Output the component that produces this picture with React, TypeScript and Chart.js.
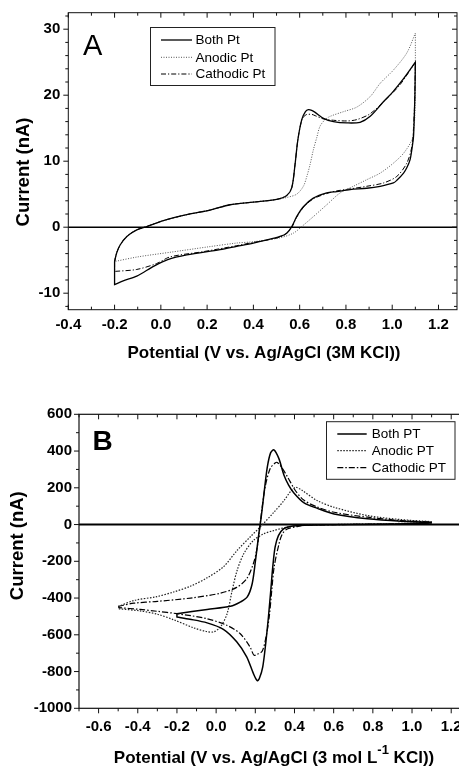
import React, { useEffect, useRef } from "react";
import { Chart, registerables } from "chart.js";
Chart.register(...registerables);

const FONT = "'Liberation Sans', Arial, Helvetica, sans-serif";

// ---------- Panel A data (potential V, current nA) ----------
const seriesA = ["Both Pt", "Anodic Pt", "Cathodic Pt"];
const xTicksA = [-0.4, -0.2, 0.0, 0.2, 0.4, 0.6, 0.8, 1.0, 1.2];
const yTicksA = [-10, 0, 10, 20, 30];

const aBothE = [
  -0.2, -0.191, -0.176, -0.147, -0.104, -0.061, 0.011, 0.112, 0.213, 0.299, 0.4, 0.5, 0.544, 0.566, 0.58, 0.592, 0.609, 0.625, 0.638, 0.652, 0.667, 0.703, 0.746, 0.804, 0.861, 0.905, 0.962, 1.0, 1.049, 1.1, 1.1,
  1.098, 1.095, 1.092, 1.085, 1.077, 1.063, 1.049, 1.02, 1.005, 0.948, 0.89, 0.818, 0.76, 0.717, 0.659, 0.616, 0.587, 0.566, 0.544, 0.515, 0.45, 0.4, 0.328, 0.256, 0.112, 0.03, -0.03, -0.104, -0.16, -0.2, -0.2, -0.2,
];
const aBothI = [
  -5.2, -3.9, -2.7, -1.4, -0.4, 0.1, 1.0, 1.9, 2.6, 3.4, 3.8, 4.2, 4.8, 6.0, 9.5, 13.2, 16.3, 17.5, 17.8, 17.7, 17.4, 16.5, 16.0, 15.8, 15.9, 16.8, 19.0, 20.4, 22.5, 25.0, 25.0,
  20.0, 16.5, 13.7, 11.8, 10.2, 9.0, 8.2, 7.1, 6.7, 6.2, 5.9, 5.7, 5.4, 5.2, 4.4, 3.1, 1.6, 0.1, -0.9, -1.4, -2.0, -2.4, -2.9, -3.4, -4.2, -4.9, -5.9, -7.4, -8.1, -8.7, -8.7, -5.2,
];

const aAnodE = [
  -0.2, -0.191, -0.176, -0.147, -0.104, -0.061, 0.011, 0.112, 0.213, 0.299, 0.4, 0.5, 0.544, 0.587, 0.616, 0.631, 0.645, 0.659, 0.674, 0.688, 0.71, 0.732, 0.789, 0.847, 0.905, 0.948, 1.005, 1.063, 1.1, 1.1,
  1.1, 1.098, 1.092, 1.085, 1.049, 1.005, 0.948, 0.89, 0.832, 0.775, 0.717, 0.659, 0.609, 0.573, 0.515, 0.4, 0.328, 0.2, 0.04, -0.1, -0.2, -0.2,
];
const aAnodI = [
  -5.2, -3.9, -2.7, -1.4, -0.4, 0.1, 1.0, 1.9, 2.6, 3.4, 3.8, 4.2, 4.5, 5.0, 6.2, 7.7, 9.5, 11.7, 13.6, 15.3, 16.3, 16.8, 17.5, 18.2, 19.8, 21.8, 23.8, 26.4, 29.4, 29.4,
  22.0, 17.0, 14.5, 13.2, 11.2, 9.7, 8.2, 7.2, 6.2, 5.2, 3.4, 1.6, 0.1, -0.9, -1.6, -2.2, -2.4, -3.0, -3.8, -4.5, -5.2, -5.2,
];

const aCathE = [
  -0.2, -0.191, -0.176, -0.147, -0.104, -0.061, 0.011, 0.112, 0.213, 0.299, 0.4, 0.5, 0.544, 0.566, 0.58, 0.592, 0.609, 0.625, 0.638, 0.652, 0.667, 0.703, 0.746, 0.804, 0.847, 0.905, 0.977, 1.034, 1.1, 1.1,
  1.097, 1.092, 1.085, 1.063, 1.02, 0.962, 0.89, 0.818, 0.76, 0.717, 0.659, 0.616, 0.587, 0.566, 0.544, 0.515, 0.45, 0.4, 0.328, 0.184, 0.04, -0.018, -0.104, -0.2, -0.2, -0.2,
];
const aCathI = [
  -5.2, -3.9, -2.7, -1.4, -0.4, 0.1, 1.0, 1.9, 2.6, 3.4, 3.8, 4.2, 4.8, 6.0, 9.5, 13.2, 16.2, 17.0, 17.1, 17.1, 16.9, 16.4, 16.2, 16.1, 16.3, 17.2, 19.5, 21.6, 25.0, 25.0,
  19.0, 15.0, 12.2, 9.7, 7.7, 6.7, 6.2, 5.8, 5.5, 5.1, 4.3, 3.0, 1.5, 0.0, -0.9, -1.5, -2.0, -2.3, -2.8, -3.7, -4.5, -5.5, -6.4, -6.7, -6.7, -5.2,
];

// ---------- Panel B data (potential V, current nA) ----------
const seriesB = ["Both PT", "Anodic PT", "Cathodic PT"];
const xTicksB = [-0.6, -0.4, -0.2, 0.0, 0.2, 0.4, 0.6, 0.8, 1.0, 1.2];
const yTicksB = [-1000, -800, -600, -400, -200, 0, 200, 400, 600];

const bBothE = [
  -0.2, -0.046, 0.073, 0.125, 0.159, 0.184, 0.201, 0.218, 0.23, 0.244, 0.261, 0.278, 0.295, 0.32, 0.346, 0.37, 0.397, 0.449, 0.517, 0.602, 0.773, 0.944, 1.097, 1.097,
  1.097, 0.9, 0.6, 0.45, 0.378, 0.344, 0.318, 0.301, 0.289, 0.279, 0.267, 0.253, 0.238, 0.221, 0.21, 0.19, 0.156, 0.105, 0.037, -0.046, -0.134, -0.2, -0.2, -0.2,
];
const bBothI = [
  -485, -462, -445, -421, -394, -322, -195, -51, 40, 166, 311, 390, 407, 360, 270, 215, 172, 118, 88, 58, 31, 18, 13, 13,
  8, 2, -1, -4, -11, -24, -60, -123, -232, -358, -503, -648, -774, -837, -850, -810, -720, -638, -570, -535, -515, -503, -503, -485,
];

const bAnodE = [
  -0.5, -0.422, -0.302, -0.217, -0.132, -0.046, 0.039, 0.107, 0.176, 0.227, 0.295, 0.346, 0.38, 0.406, 0.44, 0.517, 0.602, 0.773, 0.944, 1.097, 1.097,
  1.097, 0.6, 0.45, 0.363, 0.293, 0.242, 0.19, 0.141, 0.107, 0.082, 0.056, 0.022, -0.012, -0.05, -0.115, -0.217, -0.3, -0.388, -0.5,
];
const bAnodI = [
  -447, -414, -392, -367, -336, -290, -228, -141, -65, -11, 67, 130, 180, 203, 185, 130, 94, 49, 27, 16, 16,
  10, 0, -4, -14, -33, -51, -87, -159, -250, -358, -485, -557, -584, -582, -562, -518, -488, -470, -458,
];

const bCathE = [
  -0.5, -0.42, -0.3, -0.13, 0.02, 0.105, 0.156, 0.19, 0.207, 0.221, 0.233, 0.25, 0.276, 0.301, 0.312, 0.335, 0.363, 0.405, 0.449, 0.517, 0.602, 0.773, 0.944, 1.097, 1.097,
  1.097, 0.6, 0.45, 0.414, 0.363, 0.338, 0.321, 0.296, 0.284, 0.271, 0.255, 0.235, 0.21, 0.193, 0.173, 0.122, 0.054, -0.048, -0.2, -0.302, -0.388, -0.5,
];
const bCathI = [
  -445, -428, -418, -400, -374, -342, -295, -213, -141, -33, 76, 203, 305, 335, 338, 310, 262, 184, 132, 95, 67, 40, 22, 14, 14,
  8, -1, -3, -11, -24, -51, -105, -232, -358, -503, -610, -690, -706, -711, -666, -593, -548, -512, -485, -472, -462, -452,
];

const pts = (E: number[], I: number[]) => E.map((x, i) => ({ x, y: I[i] }));

type Side = { dir: number; maj: number; min: number };
type Deco = {
  zeroWidth: number;
  frameWidth: number;
  xMajor: number; xMinor: number; yMajor: number; yMinor: number;
  left: Side; right: Side; top: Side; bottom: Side;
  legend: { x0: number; y0: number; x1: number; y1: number; lineX0: number; lineX1: number; textX: number; rows: number[]; font: string };
  letter: { text: string; x: number; y: number; font: string };
  xTitle: { parts: { t: string; sup?: boolean }[]; x: number; y: number; font: string; supFont: string; supRise: number };
  yTitle: { text: string; x: number; y: number; font: string };
};

function drawScaleTicks(ctx: CanvasRenderingContext2D, scale: any, horizontal: boolean, edge: number, side: Side, major: number, minor: number) {
  if (side.maj <= 0) return;
  const start = Math.ceil(scale.min / minor - 1e-6);
  const end = Math.floor(scale.max / minor + 1e-6);
  ctx.beginPath();
  for (let k = start; k <= end; k++) {
    const v = k * minor;
    const r = v / major;
    const isMaj = Math.abs(r - Math.round(r)) < 1e-6;
    const len = isMaj ? side.maj : side.min;
    const p = scale.getPixelForValue(v);
    if (horizontal) {
      ctx.moveTo(p, edge);
      ctx.lineTo(p, edge + side.dir * len);
    } else {
      ctx.moveTo(edge, p);
      ctx.lineTo(edge + side.dir * len, p);
    }
  }
  ctx.stroke();
}

const decoPlugin = {
  id: "deco",
  beforeDatasetsDraw(chart: any, _args: any, o: Deco) {
    const { ctx, chartArea: ca, scales } = chart;
    const y0 = scales.y.getPixelForValue(0);
    ctx.save();
    ctx.strokeStyle = "#000";
    ctx.lineWidth = o.zeroWidth;
    ctx.beginPath();
    ctx.moveTo(ca.left, y0);
    ctx.lineTo(ca.right, y0);
    ctx.stroke();
    ctx.restore();
  },
  afterDraw(chart: any, _args: any, o: Deco) {
    const { ctx, chartArea: ca, scales } = chart;
    ctx.save();
    ctx.strokeStyle = "#111";
    ctx.lineWidth = o.frameWidth;
    ctx.strokeRect(ca.left, ca.top, ca.right - ca.left, ca.bottom - ca.top);
    ctx.lineWidth = 1;
    ctx.strokeStyle = "#111";
    drawScaleTicks(ctx, scales.x, true, ca.bottom, o.bottom, o.xMajor, o.xMinor);
    drawScaleTicks(ctx, scales.x, true, ca.top, o.top, o.xMajor, o.xMinor);
    drawScaleTicks(ctx, scales.y, false, ca.left, o.left, o.yMajor, o.yMinor);
    drawScaleTicks(ctx, scales.y, false, ca.right, o.right, o.yMajor, o.yMinor);

    const L = o.legend;
    ctx.fillStyle = "#fff";
    ctx.fillRect(L.x0, L.y0, L.x1 - L.x0, L.y1 - L.y0);
    ctx.strokeStyle = "#222";
    ctx.lineWidth = 1;
    ctx.strokeRect(L.x0, L.y0, L.x1 - L.x0, L.y1 - L.y0);
    chart.data.datasets.forEach((ds: any, i: number) => {
      const y = L.rows[i];
      ctx.save();
      ctx.strokeStyle = ds.borderColor;
      ctx.lineWidth = ds.borderWidth;
      ctx.setLineDash(ds.borderDash || []);
      ctx.beginPath();
      ctx.moveTo(L.lineX0, y);
      ctx.lineTo(L.lineX1, y);
      ctx.stroke();
      ctx.restore();
      ctx.fillStyle = "#000";
      ctx.font = L.font;
      ctx.textAlign = "left";
      ctx.textBaseline = "middle";
      ctx.fillText(ds.label, L.textX, y + 0.5);
    });

    ctx.fillStyle = "#000";
    ctx.font = o.letter.font;
    ctx.textAlign = "center";
    ctx.textBaseline = "alphabetic";
    ctx.fillText(o.letter.text, o.letter.x, o.letter.y);

    const T = o.xTitle;
    let total = 0;
    const widths = T.parts.map((p) => {
      ctx.font = p.sup ? T.supFont : T.font;
      const w = ctx.measureText(p.t).width;
      total += w;
      return w;
    });
    let cx = T.x - total / 2;
    ctx.textAlign = "left";
    ctx.textBaseline = "middle";
    T.parts.forEach((p, i) => {
      ctx.font = p.sup ? T.supFont : T.font;
      ctx.fillText(p.t, cx, p.sup ? T.y - T.supRise : T.y);
      cx += widths[i];
    });

    const Y = o.yTitle;
    ctx.translate(Y.x, Y.y);
    ctx.rotate(-Math.PI / 2);
    ctx.font = Y.font;
    ctx.textAlign = "center";
    ctx.textBaseline = "middle";
    ctx.fillText(Y.text, 0, 0);
    ctx.restore();
  },
};

type PanelProps = {
  width: number;
  height: number;
  top: number;
  datasets: any[];
  xMin: number; xMax: number; yMin: number; yMax: number;
  xTicks: number[]; yTicks: number[];
  area: { left: number; top: number; right: number; bottom: number };
  xPad: number; yPad: number;
  deco: Deco;
};

function Panel(p: PanelProps) {
  const ref = useRef<HTMLCanvasElement | null>(null);
  useEffect(() => {
    if (!ref.current) return;
    const tickFont = { family: FONT, size: 15, weight: "bold" as const };
    const chart = new Chart(ref.current, {
      type: "scatter",
      data: { datasets: p.datasets },
      plugins: [decoPlugin as any],
      options: {
        animation: false,
        responsive: false,
        events: [],
        layout: {
          padding: { left: 0, top: p.area.top, right: p.width - p.area.right, bottom: 0 },
        },
        elements: { point: { radius: 0 }, line: { tension: 0.3, capBezierPoints: true } },
        plugins: {
          legend: { display: false },
          tooltip: { enabled: false },
          deco: p.deco as any,
        } as any,
        scales: {
          x: {
            type: "linear",
            min: p.xMin,
            max: p.xMax,
            grid: { display: false, drawTicks: false },
            border: { display: false },
            ticks: {
              font: tickFont,
              color: "#000",
              padding: p.xPad,
              maxRotation: 0,
              minRotation: 0,
              autoSkip: false,
              callback: (v: any) => Number(v).toFixed(1),
            },
            afterBuildTicks: (s: any) => {
              s.ticks = p.xTicks.map((v) => ({ value: v }));
            },
            afterFit: (s: any) => {
              s.height = p.height - p.area.bottom;
              s.paddingLeft = 0;
              s.paddingRight = 0;
            },
          },
          y: {
            type: "linear",
            min: p.yMin,
            max: p.yMax,
            grid: { display: false, drawTicks: false },
            border: { display: false },
            ticks: {
              font: tickFont,
              color: "#000",
              padding: p.yPad,
              autoSkip: false,
              callback: (v: any) => String(Math.round(Number(v))),
            },
            afterBuildTicks: (s: any) => {
              s.ticks = p.yTicks.map((v) => ({ value: v }));
            },
            afterFit: (s: any) => {
              s.width = p.area.left;
              s.paddingTop = 0;
              s.paddingBottom = 0;
            },
          },
        },
      },
    });
    return () => chart.destroy();
  }, []);
  return (
    <canvas
      ref={ref}
      width={p.width}
      height={p.height}
      style={{ position: "absolute", left: 0, top: p.top, width: p.width, height: p.height }}
    />
  );
}

const line = (label: string, data: any[], color: string, width: number, dash: number[]) => ({
  label,
  data,
  showLine: true,
  borderColor: color,
  backgroundColor: color,
  borderWidth: width,
  borderDash: dash,
  pointRadius: 0,
  fill: false,
});

export default function App() {
  const dsA = [
    line(seriesA[0], pts(aBothE, aBothI), "#000", 1.3, []),
    line(seriesA[1], pts(aAnodE, aAnodI), "#555", 1, [1, 1.5]),
    line(seriesA[2], pts(aCathE, aCathI), "#000", 1, [5, 2, 1.2, 2]),
  ];
  const dsB = [
    line(seriesB[0], pts(bBothE, bBothI), "#000", 1.5, []),
    line(seriesB[1], pts(bAnodE, bAnodI), "#222", 1.2, [1.5, 1.5]),
    line(seriesB[2], pts(bCathE, bCathI), "#000", 1.2, [6, 2, 1.5, 2]),
  ];

  const decoA: Deco = {
    zeroWidth: 1.4,
    frameWidth: 1,
    xMajor: 0.2, xMinor: 0.1, yMajor: 10, yMinor: 2,
    left: { dir: -1, maj: 5, min: 3 },
    right: { dir: -1, maj: 5, min: 3 },
    top: { dir: 1, maj: 5, min: 3 },
    bottom: { dir: -1, maj: 5, min: 3 },
    legend: { x0: 150.5, y0: 27.5, x1: 275, y1: 85.5, lineX0: 161, lineX1: 192, textX: 195.5, rows: [40, 57.3, 74], font: `13.5px ${FONT}` },
    letter: { text: "A", x: 92.7, y: 55, font: `29px ${FONT}` },
    xTitle: { parts: [{ t: "Potential (V vs. Ag/AgCl (3M KCl))" }], x: 264, y: 353, font: `bold 17px ${FONT}`, supFont: `bold 12px ${FONT}`, supRise: 7 },
    yTitle: { text: "Current (nA)", x: 23.7, y: 172, font: `bold 18.5px ${FONT}` },
  };
  const decoB: Deco = {
    zeroWidth: 2,
    frameWidth: 1.2,
    xMajor: 0.2, xMinor: 0.1, yMajor: 200, yMinor: 100,
    left: { dir: -1, maj: 5, min: 3 },
    right: { dir: -1, maj: 0, min: 0 },
    top: { dir: 1, maj: 5, min: 3 },
    bottom: { dir: 1, maj: 5, min: 3 },
    legend: { x0: 326.5, y0: 51.7, x1: 455, y1: 109.3, lineX0: 337.3, lineX1: 366.7, textX: 371.7, rows: [64, 80.7, 97.7], font: `13.5px ${FONT}` },
    letter: { text: "B", x: 102.7, y: 80, font: `bold 28px ${FONT}` },
    xTitle: {
      parts: [{ t: "Potential (V vs. Ag/AgCl (3 mol L" }, { t: "-1", sup: true }, { t: " KCl))" }],
      x: 274, y: 388.5, font: `bold 17px ${FONT}`, supFont: `bold 13px ${FONT}`, supRise: 8,
    },
    yTitle: { text: "Current (nA)", x: 17.7, y: 175.7, font: `bold 18.5px ${FONT}` },
  };

  return (
    <div style={{ position: "fixed", left: 0, top: 0, width: 459, height: 768, overflow: "hidden", background: "#fff" }}>
      <Panel
        width={459} height={370} top={0}
        datasets={dsA}
        xMin={-0.4} xMax={1.28} yMin={-12.5} yMax={32.5}
        xTicks={xTicksA} yTicks={yTicksA}
        area={{ left: 68.3, top: 12.7, right: 457, bottom: 309.7 }}
        xPad={6.3} yPad={8}
        deco={decoA}
      />
      <Panel
        width={464} height={398} top={370}
        datasets={dsB}
        xMin={-0.7} xMax={1.25} yMin={-1000} yMax={600}
        xTicks={xTicksB} yTicks={yTicksB}
        area={{ left: 79, top: 44.3, right: 461, bottom: 338.3 }}
        xPad={9.4} yPad={7}
        deco={decoB}
      />
    </div>
  );
}
